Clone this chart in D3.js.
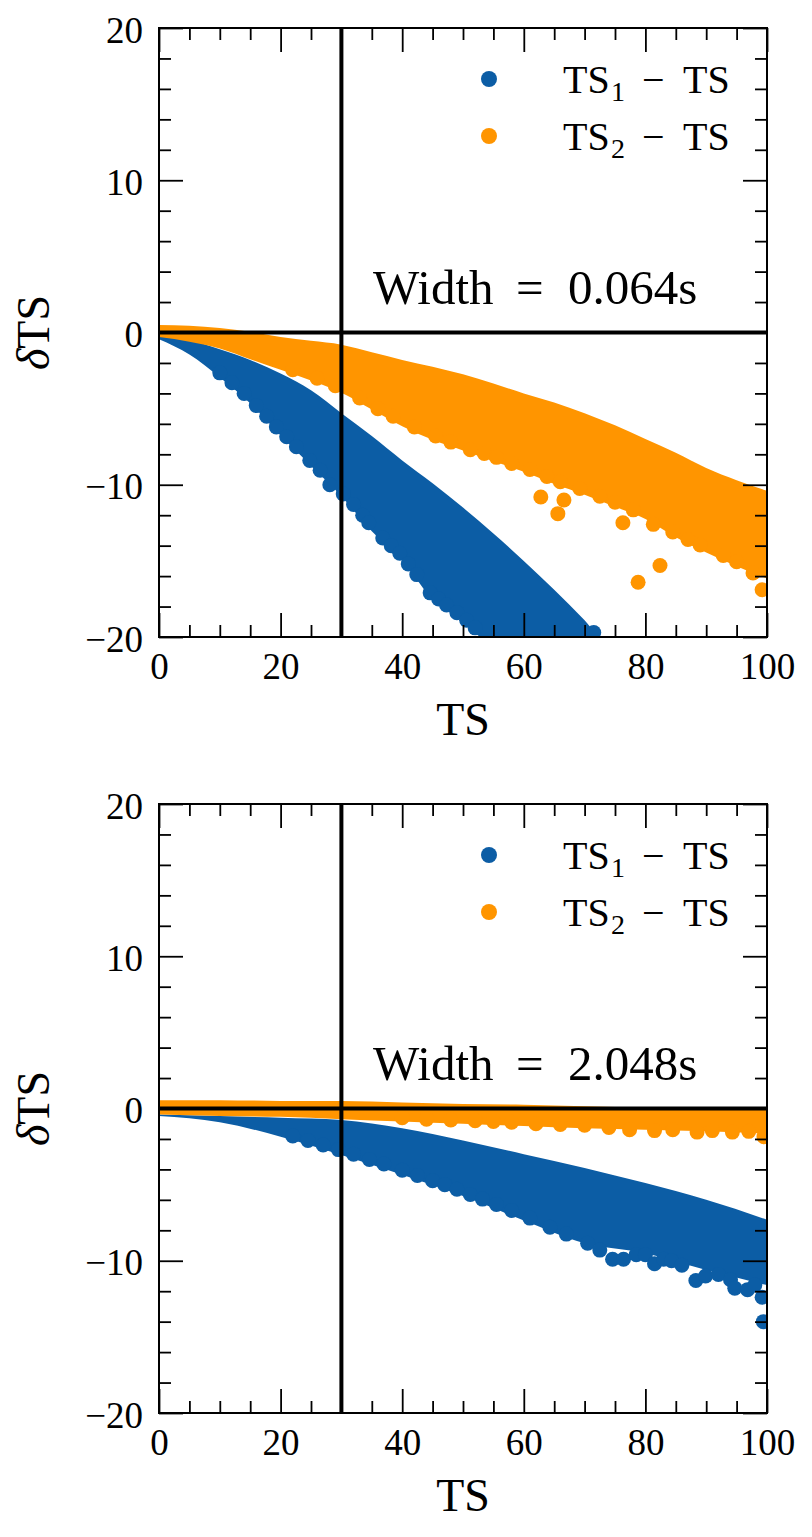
<!DOCTYPE html>
<html lang="en">
<head>
<meta charset="utf-8">
<title>TS difference scatter</title>
<script src="https://cdnjs.cloudflare.com/ajax/libs/d3/7.8.5/d3.min.js"></script>
<style>
  body { margin: 0; background: #fff; }
  svg text { font-family: "Liberation Serif", "DejaVu Serif", serif; fill: #000; }
</style>
</head>
<body>
<script>
// ---- data ----
// top panel, Width = 0.064s : dense part of each cloud, sampled every 5 TS
var topGrid     = [0, 5, 10, 15, 20, 25, 30, 35, 40, 45, 50, 55, 60, 65, 70, 75, 80, 85, 90, 95, 100];
var topBlueHi   = [-0.1, -0.5, -1.1, -1.8, -2.7, -3.8, -5.3, -6.8, -8.4, -9.9, -11.5, -13.2, -15.0, -16.9, -18.9, -21, -21, -21, -21, -21, -21];
var topBlueLo   = [-0.45, -1.45, -2.95, -4.65, -6.75, -8.75, -10.75, -13.05, -14.95, -17.55, -18.95, -20.65, -21, -21, -21, -21, -21, -21, -21, -21, -21];
var topOrangeHi = [0.5, 0.45, 0.3, 0.05, -0.3, -0.55, -0.8, -1.3, -1.8, -2.25, -2.75, -3.35, -4.0, -4.6, -5.3, -6.1, -7.0, -7.9, -8.9, -9.7, -10.4];
var topOrangeLo = [-0.3, -0.6, -1.05, -1.75, -2.45, -3.15, -3.95, -5.05, -6.15, -7.05, -7.75, -8.45, -9.15, -9.95, -10.65, -11.45, -12.25, -13.45, -14.45, -15.35, -16.15];
// individual points along the ragged lower edges and outliers [TS, dTS]
var topBlueDots   = [[10, -2.65], [12, -3.3], [14, -4.0], [16, -4.8], [17.7, -5.5], [19.3, -6.2], [21, -6.85], [22.6, -7.5],
                     [24.8, -8.4], [26.5, -9.05], [28.1, -10.0], [30.3, -10.6], [32, -11.3], [33.5, -12.0], [34.5, -12.5],
                     [36.8, -13.5], [38.2, -14.0], [39.6, -14.5], [41, -15.2], [42.4, -15.9], [44.6, -17.1], [46, -17.5],
                     [47.3, -17.9], [49, -18.4], [50.6, -18.9], [52, -19.4], [71.5, -19.7]];
var topOrangeDots = [[22, -2.45], [26, -3.0], [29, -3.5], [33, -4.3], [36, -5.0], [38.5, -5.5], [42, -6.2], [45.5, -6.8],
                     [48, -7.2], [51.2, -7.7], [53.5, -7.95], [55.5, -8.2], [58, -8.6], [61, -9.0], [63.8, -9.45], [66, -9.8],
                     [69.2, -10.25], [72.5, -10.75], [75, -11.15], [78, -11.65], [81.3, -12.6], [84.5, -13.1], [87, -13.6],
                     [89, -13.95], [92.8, -14.65], [95, -15.05], [97.7, -15.8],
                     [62.8, -10.8], [65.6, -11.9], [66.6, -11.0], [76.3, -12.5], [78.8, -16.4], [82.4, -15.3], [99.2, -16.9]];

// bottom panel, Width = 2.048s : dense part of each cloud, sampled every 10 TS
var botGrid     = [0, 10, 20, 30, 40, 50, 60, 70, 80, 90, 100];
var botBlueHi   = [-0.4, -0.5, -0.6, -0.75, -1.3, -2.1, -3.0, -3.9, -4.9, -6.0, -7.3];
var botBlueLo   = [-0.5, -0.9, -1.85, -3.05, -4.35, -5.75, -7.35, -8.85, -9.5, -10.6, -11.6];
var botOrangeHi = [0.55, 0.55, 0.5, 0.5, 0.4, 0.3, 0.25, 0.15, 0.05, 0.0, -0.05];
var botOrangeLo = [-0.4, -0.5, -0.55, -0.7, -0.85, -1.0, -1.15, -1.3, -1.4, -1.5, -1.65];
var botBlueDots   = [[22, -1.8], [24.5, -2.1], [27, -2.4], [29.5, -2.7], [32, -3.0], [34.6, -3.35], [37, -3.65], [40, -4.05],
                     [42.5, -4.4], [45, -4.75], [47, -5.0], [49, -5.3], [51.2, -5.65], [53.2, -5.95], [55.5, -6.3], [58, -6.7],
                     [61, -7.2], [64.3, -7.8], [67, -8.25], [70.5, -8.85], [72.5, -9.3], [74.6, -9.9], [76.4, -9.9],
                     [78.5, -9.6], [80, -9.6], [81.5, -10.2], [83, -9.9], [84.3, -10.0], [86, -10.3], [88.3, -11.3],
                     [89.9, -11.0], [92, -10.9], [94, -11.25], [94.7, -11.8], [96.8, -11.9], [98, -11.6], [99.2, -12.4],
                     [99.4, -14.0]];
var botOrangeDots = [[40, -0.6], [44, -0.7], [48, -0.75], [52, -0.8], [55, -0.85], [58, -0.9], [62, -1.0], [66, -1.05],
                     [70, -1.1], [74, -1.25], [77.4, -1.4], [81.5, -1.45], [84.5, -1.4], [88.5, -1.55], [91, -1.45],
                     [94.3, -1.55], [97, -1.5], [99.5, -1.85]];

var xMajor = [0, 20, 40, 60, 80, 100];
var yMajor = [-20, -10, 0, 10, 20];
var cutTS = 30;
var widths = ["0.064s", "2.048s"];

// ---- layout ----
var width = 812, height = 1537;
var plotLeft = 159, plotRight = 767, plotTop = 28, plotH = 609;
var panelShift = 776;
var blue = "#0C5DA5", orange = "#FF9500";
var radius = 7.5;
var fontFam = '"Liberation Serif", "DejaVu Serif", serif';

var svg = d3.select("body").append("svg")
  .attr("width", width)
  .attr("height", height)
  .style("background", "#fff");

var x = d3.scaleLinear().domain([0, 100]).range([plotLeft, plotRight]);
var y = d3.scaleLinear().domain([-20, 20]).range([plotTop + plotH, plotTop]);

var xMinor = d3.range(0, 101, 5).filter(function(v) { return xMajor.indexOf(v) < 0; });
var yMinor = d3.range(-20, 21, 2).filter(function(v) { return yMajor.indexOf(v) < 0; });

function cloud(grid, lo, hi) {
  return grid.map(function(t, i) { return [t, lo[i], hi[i]]; });
}

var area = d3.area()
  .x(function(d) { return x(d[0]); })
  .y0(function(d) { return y(d[1]); })
  .y1(function(d) { return y(d[2]); })
  .curve(d3.curveMonotoneX);

function drawPanel(idx, p) {
  var g = svg.append("g").attr("transform", "translate(0," + (idx * panelShift) + ")");

  g.append("clipPath").attr("id", "clip" + idx)
    .append("rect")
    .attr("x", plotLeft).attr("y", plotTop)
    .attr("width", plotRight - plotLeft).attr("height", plotH);

  var data = g.append("g").attr("clip-path", "url(#clip" + idx + ")");

  // blue series first, orange drawn over it
  data.append("path").datum(p.blue).attr("d", area).attr("fill", blue);
  data.selectAll("circle.b").data(p.blueDots).enter().append("circle")
    .attr("class", "b")
    .attr("cx", function(d) { return x(d[0]); })
    .attr("cy", function(d) { return y(d[1]); })
    .attr("r", radius).attr("fill", blue);

  data.append("path").datum(p.orange).attr("d", area).attr("fill", orange);
  data.selectAll("circle.o").data(p.orangeDots).enter().append("circle")
    .attr("class", "o")
    .attr("cx", function(d) { return x(d[0]); })
    .attr("cy", function(d) { return y(d[1]); })
    .attr("r", radius).attr("fill", orange);

  // reference lines
  data.append("line")
    .attr("x1", x(cutTS)).attr("x2", x(cutTS))
    .attr("y1", y(-20)).attr("y2", y(20))
    .attr("stroke", "#000").attr("stroke-width", 4);
  data.append("line")
    .attr("x1", x(0)).attr("x2", x(100))
    .attr("y1", y(0)).attr("y2", y(0))
    .attr("stroke", "#000").attr("stroke-width", 4);

  // ticks, pointing inwards on all four sides
  function ticks(axis, tx, ty, labelled) {
    var a = g.append("g")
      .attr("transform", "translate(" + tx + "," + ty + ")")
      .call(axis)
      .attr("font-family", fontFam)
      .attr("font-size", 37);
    a.select(".domain").remove();
    a.selectAll(".tick line").attr("stroke-width", 1.8);
    if (!labelled) a.selectAll(".tick text").remove();
    return a;
  }
  ticks(d3.axisBottom(x).tickValues(xMinor).tickSize(-12).tickFormat(""), 0, y(-20), false);
  ticks(d3.axisTop(x).tickValues(xMinor).tickSize(-12).tickFormat(""), 0, y(20), false);
  ticks(d3.axisLeft(y).tickValues(yMinor).tickSize(-12).tickFormat(""), plotLeft, 0, false);
  ticks(d3.axisRight(y).tickValues(yMinor).tickSize(-12).tickFormat(""), plotRight, 0, false);

  ticks(d3.axisBottom(x).tickValues(xMajor).tickSize(-24).tickPadding(16), 0, y(-20), true);
  ticks(d3.axisTop(x).tickValues(xMajor).tickSize(-24), 0, y(20), false);
  var yl = ticks(d3.axisLeft(y).tickValues(yMajor).tickSize(-24).tickPadding(16), plotLeft, 0, true);
  yl.selectAll(".tick text").attr("dy", "0.38em");
  ticks(d3.axisRight(y).tickValues(yMajor).tickSize(-24), plotRight, 0, false);

  // frame
  g.append("rect")
    .attr("x", plotLeft).attr("y", plotTop)
    .attr("width", plotRight - plotLeft).attr("height", plotH)
    .attr("fill", "none").attr("stroke", "#000").attr("stroke-width", 2);

  // axis titles
  g.append("text")
    .attr("x", (plotLeft + plotRight) / 2).attr("y", plotTop + plotH + 98)
    .attr("text-anchor", "middle")
    .attr("font-size", 46)
    .text("TS");

  var yt = g.append("text")
    .attr("transform", "translate(49," + y(0) + ") rotate(-90)")
    .attr("text-anchor", "middle")
    .attr("font-size", 46);
  yt.append("tspan").attr("font-style", "italic").text("δ");
  yt.append("tspan").text("TS");

  // annotation, spaced like the math-mode original
  var ann = g.append("text").attr("y", 304).attr("font-size", 49);
  ann.append("tspan").attr("x", 373).text("Width");
  ann.append("tspan").attr("x", 516).text("=");
  ann.append("tspan").attr("x", 568).text(p.width);

  // legend
  var legend = [{ c: blue, s: "1", yy: 79 }, { c: orange, s: "2", yy: 136 }];
  legend.forEach(function(l) {
    g.append("circle").attr("cx", 489).attr("cy", l.yy).attr("r", 8).attr("fill", l.c);
    var t = g.append("text").attr("y", l.yy + 14).attr("font-size", 40);
    t.append("tspan").attr("x", 563).text("TS");
    t.append("tspan").attr("x", 611).attr("font-size", 28).attr("dy", 8).text(l.s);
    t.append("tspan").attr("x", 642).attr("dy", -8).text("\u2212");
    t.append("tspan").attr("x", 683).text("TS");
  });
}

drawPanel(0, {
  blue: cloud(topGrid, topBlueLo, topBlueHi),
  orange: cloud(topGrid, topOrangeLo, topOrangeHi),
  blueDots: topBlueDots,
  orangeDots: topOrangeDots,
  width: widths[0]
});

drawPanel(1, {
  blue: cloud(botGrid, botBlueLo, botBlueHi),
  orange: cloud(botGrid, botOrangeLo, botOrangeHi),
  blueDots: botBlueDots,
  orangeDots: botOrangeDots,
  width: widths[1]
});
</script>
</body>
</html>
